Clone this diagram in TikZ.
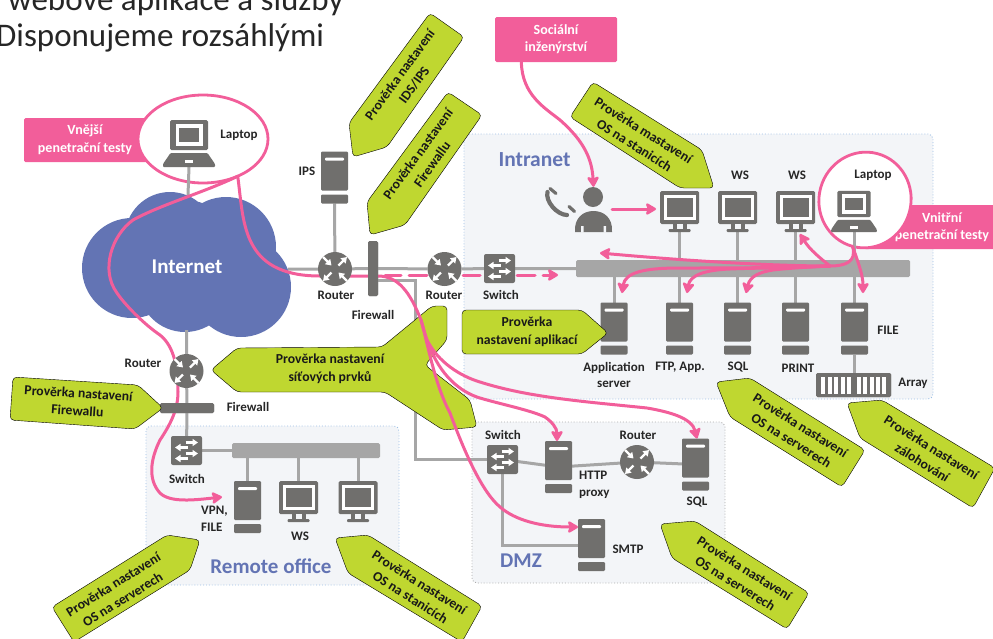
\documentclass[tikz,border=0pt]{standalone}
\usepackage{fontspec}
\setmainfont{Carlito}
\usetikzlibrary{arrows.meta,calc,shapes.geometric}
\definecolor{devgray}{HTML}{706F6D}
\definecolor{linegray}{HTML}{A6A6A6}
\definecolor{hotpink}{HTML}{F25E9A}
\definecolor{lime}{HTML}{BFD730}
\definecolor{cloudblue}{HTML}{6374B4}
\definecolor{zonefill}{HTML}{F3F5F8}
\definecolor{titlegray}{HTML}{262626}
\definecolor{zoneblue}{HTML}{9DBFE5}
\definecolor{zonegray}{HTML}{ABABAB}
\tikzset{
  x=1pt,y=-1pt,
  srvbox/.style={inner sep=0,outer sep=0,minimum width=27pt,minimum height=52pt},
  monbox/.style={inner sep=0,outer sep=0,minimum width=39pt,minimum height=41pt},
  lapbox/.style={inner sep=0,outer sep=0,minimum width=52pt,minimum height=47pt},
  lapboxs/.style={inner sep=0,outer sep=0,minimum width=46pt,minimum height=41pt},
  rtrbox/.style={circle,inner sep=0,outer sep=0,minimum size=34pt},
  swbox/.style={inner sep=0,outer sep=0,minimum width=31pt,minimum height=29pt},
  barbox/.style={rectangle,fill=#1,rounded corners=1.5pt,inner sep=0,outer sep=0},
  zone/.style={fill=zonefill,draw=#1,dotted,line width=0.9pt,rounded corners=5pt},
  wire/.style={draw=linegray,line width=3pt},
  attack/.style={draw=hotpink,line width=3pt,line cap=round},
  attackhead/.style={attack,-{Stealth[length=12pt,width=14pt,inset=2.5pt,round]}},
  ring/.style={ellipse,draw=hotpink,fill=white,line width=2.8pt,inner sep=0,outer sep=0},
  pinktag/.style={fill=hotpink,rounded corners=1.5pt,inner sep=0,outer sep=0},
  badge/.style={fill=lime,rounded corners=4pt},
  tagtext/.style={text=white,font=\bfseries\fontsize{14}{17.5}\selectfont,align=center,inner sep=0},
  devtext/.style={text=black!85,font=\bfseries\fontsize{13}{16.5}\selectfont,align=center,inner sep=0},
  limetext/.style={text=black!90,font=\bfseries\fontsize{13.7}{17.5}\selectfont,align=center,inner sep=0},
  zonetext/.style={text=cloudblue,font=\bfseries\fontsize{#1}{#1}\selectfont,inner sep=0},
  pics/server/.style={code={
    \fill[devgray,rounded corners=1.2pt] (-13.5,-26) rectangle (13.5,13);
    \fill[devgray,rounded corners=1.2pt] (-13.5,17) rectangle (13.5,26);
    \fill[white,rounded corners=1pt] (-9.5,-20) rectangle (9.5,-17);
  }},
  pics/monitor/.style={code={
    \fill[devgray,rounded corners=1.5pt] (-19.5,-20.5) rectangle (19.5,12.5);
    \fill[white] (-16,-16.5) rectangle (16,8.5);
    \fill[devgray] (-13,-13.5) rectangle (13,5.5);
    \fill[devgray] (-7,12.5) rectangle (7,18);
    \fill[zonefill] (-3,12.5) rectangle (3,17.5);
    \fill[devgray,rounded corners=1pt] (-11,17.5) rectangle (11,20.5);
  }},
  pics/laptop/.style={code={
    \fill[devgray,rounded corners=1.5pt] (-19,-23.5) rectangle (19,6.5);
    \fill[white] (-13.5,-19.5) rectangle (13.5,2.5);
    \fill[devgray] (-10,-15.5) rectangle (10,-1.5);
    \fill[devgray,rounded corners=1pt] (-18.5,9.5) -- (18.5,9.5) -- (26,20.5) -- (26,23.5) -- (-26,23.5) -- (-26,20.5) -- cycle;
    \fill[white] (-4,16.5) rectangle (4,19.5);
  }},
  arr/.style={draw=white,line width=2.3pt,-{Triangle[length=5.5pt,width=7pt]}},
  pics/router/.style={code={
    \fill[devgray] (0,0) circle (17);
    \draw[arr] (-12,-12) -- (-3.5,-3.5);
    \draw[arr] (12,12) -- (3.5,3.5);
    \draw[arr] (3.5,-3.5) -- (12,-12);
    \draw[arr] (-3.5,3.5) -- (-12,12);
  }},
  pics/switcher/.style={code={
    \fill[devgray,rounded corners=2pt] (-15.5,-14.5) rectangle (15.5,14.5);
    \draw[arr] (-1,-8) -- (11.5,-8);
    \draw[arr] (1,-3) -- (-11.5,-3);
    \draw[arr] (-1,3) -- (11.5,3);
    \draw[arr] (1,8) -- (-11.5,8);
  }}
}
\begin{document}
\begin{tikzpicture}
\useasboundingbox (0,0) rectangle (993,638);
\clip (0,0) rectangle (993,638);
% title text
\node[anchor=base west,inner sep=0,text=titlegray,font=\fontsize{33}{33}\selectfont] (title1) at (8,10) {webové aplikace a služby};
\node[anchor=base west,inner sep=0,text=titlegray,font=\fontsize{33}{33}\selectfont] (title2) at (-4,46.5) {Disponujeme rozsáhlými};
% zones
\draw[zone=zoneblue] (464,134) rectangle (933,399);
\draw[zone=zoneblue] (146,426) rectangle (399,585);
\draw[zone=zonegray] (472,422) rectangle (725,583);
\node[zonetext=21.5] (zIntra) at (534.5,160) {Intranet};
\node[zonetext=21] (zRemote) at (271,566) {Remote office};
\node[zonetext=21] (zDmz) at (521,561) {DMZ};
% cloud
\fill[cloudblue] (132,268) circle (50) (170,237) circle (45) (226,247) circle (50)
  (241,287) circle (50) (185,285) circle (47) (185,250) circle (50);
\node[text=white,font=\bfseries\fontsize{21}{21}\selectfont,inner sep=0] (inet) at (187,267) {Internet};
\coordinate (inetN) at (188,195);
\coordinate (inetE) at (288,269);
\coordinate (inetS) at (186.5,330);
% pink tags & rings
\node[pinktag,minimum width=125pt,minimum height=44pt] (tagExt) at (86.5,140) {};
\node[tagtext] (tagExtT) at (85,139.5) {Vnější\\penetrační testy};
\node[ring,minimum width=130pt,minimum height=88pt] (el1) at (203,139) {};
\node[pinktag,minimum width=122pt,minimum height=45pt] (tagSoc) at (556,39.5) {};
\node[tagtext] (tagSocT) at (556,39) {Sociální\\inženýrství};
\node[pinktag,minimum width=132pt,minimum height=44pt] (tagInt) at (930,227) {};
\node[tagtext] (tagIntT) at (942,227) {Vnitřní\\penetrační testy};
\node[ring,minimum width=92pt,minimum height=96pt,rotate=-15] (el2) at (865,200) {};
% device place-holders
\node[lapbox] (lap1) at (189,143.5) {};
\node[srvbox] (ips) at (334.5,177.5) {};
\node[rtrbox] (r1) at (335,269) {};
\node[rtrbox] (r2) at (444.5,269) {};
\node[rtrbox] (r3) at (186.5,371) {};
\node[rtrbox] (r4) at (637,462) {};
\node[swbox] (sw1) at (499.5,268.5) {};
\node[swbox] (sw2) at (186.5,450.5) {};
\node[swbox] (sw3) at (502.5,459.5) {};
\node[barbox=devgray,minimum width=10pt,minimum height=55pt] (fw1) at (373,268.5) {};
\node[barbox=devgray,minimum width=54pt,minimum height=10pt] (fw2) at (187,408) {};
\node[barbox=linegray,minimum width=334pt,minimum height=17pt] (bus1) at (743,268.5) {};
\node[barbox=linegray,minimum width=148pt,minimum height=15pt] (bus2) at (306,450.5) {};
\node[monbox] (m1) at (679.5,211.5) {};
\node[monbox] (m2) at (737.5,211.5) {};
\node[monbox] (m3) at (795.5,211.5) {};
\node[lapboxs] (lap2) at (854,211.5) {};
\node[srvbox] (s1) at (614,328.5) {};
\node[srvbox] (s2) at (679.5,328.5) {};
\node[srvbox] (s3) at (737.5,328.5) {};
\node[srvbox] (s4) at (795.5,328.5) {};
\node[srvbox] (s5) at (854.5,328.5) {};
\node[barbox=devgray,minimum width=75pt,minimum height=24pt] (arr1) at (853.5,385) {};
\node[srvbox] (s6) at (247.5,507) {};
\node[monbox] (m4) at (298.5,501.5) {};
\node[monbox] (m5) at (358,501.5) {};
\node[srvbox] (s7) at (558.5,467) {};
\node[srvbox] (s8) at (695.5,464.5) {};
\node[srvbox] (s9) at (591.5,545) {};
\node[inner sep=0,minimum width=37pt,minimum height=44pt] (person) at (593.5,209) {};
% grey wires
\draw[wire] (lap1.south) -- (inetN);
\draw[wire] (ips.south) -- (r1);
\draw[wire] (inetE) -- (r1) -- (fw1) -- (r2) -- (sw1) -- (bus1.west |- sw1);
\draw[wire] (m1.south) -- (m1.south |- bus1.north);
\draw[wire] (m2.south) -- (m2.south |- bus1.north);
\draw[wire] (m3.south) -- (m3.south |- bus1.north);
\draw[wire] (lap2.south) -- (lap2.south |- bus1.north);
\draw[wire] (s1.north) -- (s1.north |- bus1.south);
\draw[wire] (s2.north) -- (s2.north |- bus1.south);
\draw[wire] (s3.north) -- (s3.north |- bus1.south);
\draw[wire] (s4.north) -- (s4.north |- bus1.south);
\draw[wire] (s5.north) -- (s5.north |- bus1.south);
\draw[wire] (s5.south) -- (s5.south |- arr1.north);
\draw[wire] (inetS) -- (r3) -- (fw2) -- (sw2);
\draw[wire] (sw2.east) -- (sw2.east -| bus2.west);
\draw[wire] (s6.north) -- (s6.north |- bus2.south);
\draw[wire] (m4.north) -- (m4.north |- bus2.south);
\draw[wire] (m5.north) -- (m5.north |- bus2.south);
\coordinate (fwout) at (378,280);
\draw[wire] (fwout) -- (415,280) |- (sw3);
\draw[wire] (sw3) -- (s7) -- (r4) -- (s8);
\draw[wire] (sw3.south) |- (s9.west);
% lime badges under the pink lines
\draw[badge] (430,13) -- (464,37) -- (387,147) -- (353,157) -- (349,123) -- cycle;
\node[limetext,rotate=54] (b1) at (407,80) {Prověrka nastavení\\IDS/IPS};
\draw[badge] (448,92) -- (482,115) -- (405,225) -- (370,235) -- (367,202) -- cycle;
\node[limetext,rotate=54] (b2) at (425,159) {Prověrka nastavení\\Firewallu};
\draw[badge] (593,82) -- (570,117) -- (680,188) -- (714,188) -- (702,150) -- cycle;
\node[limetext,rotate=-32] (b3) at (639,138) {Prověrka mastavení\\OS na stanicích};
\draw[badge] (211,370) -- (237,348) -- (382,347) -- (432,306) -- (447,306) -- (447,340) -- (425,365) -- (470,400) -- (477,427) -- (443,430) -- (385,392) -- (237,392) -- cycle;
\node[limetext] (b5) at (330,369) {Prověrka nastavení\\síťových prvků};
\draw[badge] (200,540) -- (167,535) -- (52,607) -- (74,642) -- (190,570) -- cycle;
\node[limetext,rotate=32] (b7) at (118,592) {Prověrka nastavení\\OS na serverech};
\draw[badge] (335,538) -- (368,535) -- (482,606) -- (462,642) -- (348,573) -- cycle;
\node[limetext,rotate=-32] (b8) at (415,590) {Prověrka nastavení\\OS na stanicích};
\draw[badge] (716,382) -- (750,378) -- (865,450) -- (842,487) -- (730,417) -- cycle;
\node[limetext,rotate=-32] (b9) at (796,433) {Prověrka nastavení\\OS na serverech};
\draw[badge] (847,403) -- (882,400) -- (995,468) -- (973,508) -- (860,438) -- cycle;
\node[limetext,rotate=-32] (b10) at (927,455) {Prověrka nastavení\\zálohování};
\draw[badge] (660,524) -- (695,521) -- (809,593) -- (787,629) -- (672,558) -- cycle;
\node[limetext,rotate=-32] (b11) at (740,576) {Prověrka nastavení\\OS na serverech};
% pink connectors
\coordinate (fwin) at (378,276);
\coordinate (trunk) at (421,320);
\coordinate (fan) at (830,266);
\coordinate (lanhit) at (558,275);
\draw[attack] (el1.-47) .. controls (244,220) and (240,276) .. (320,276) -- (fwin);
\draw[attackhead,dash pattern=on 16pt off 8pt on 18pt off 36pt on 17pt off 37pt on 18pt off 8pt on 40pt] (385,275) -- (lanhit);
\draw[attack] (fwin) .. controls (398,276) and (410,292) .. (trunk) .. controls (423,327) and (425,334) .. (427,340);
\draw[attackhead] (trunk) .. controls (428,345) and (435,385) .. (450,413) .. controls (462,445) and (480,490) .. (500,507) .. controls (515,520) and (540,527) .. (s9.west |- 0,527);
\draw[attackhead] (427,340) .. controls (438,362) and (460,376) .. (480,382) .. controls (530,398) and (590,402) .. (647,408) .. controls (670,412) and (692,418) .. (s8.north -| 697,0);
\draw[attackhead] (429,345) .. controls (440,375) and (460,392) .. (480,398) .. controls (500,404) and (530,410) .. (545,417) .. controls (552,422) and (557,428) .. (s7.north -| 557,0);
\draw[attackhead] (el1.-47) .. controls (205,192) and (160,205) .. (133,220) .. controls (112,235) and (100,270) .. (117,293) .. controls (125,305) and (145,325) .. (160,335) .. controls (175,347) and (178,370) .. (178,392) .. controls (178,410) and (170,425) .. (160,440) .. controls (150,460) and (148,480) .. (160,493) .. controls (170,503) and (195,500) .. (222,497);
\draw[attackhead] (tagSoc.213.5) .. controls (522,95) and (545,108) .. (560,120) .. controls (585,142) and (592,160) .. (person.north);
\draw[attackhead,shorten >=4pt] (person.east) -- (person.east -| m1.west);
\draw[attackhead] (el2.-90) .. controls (857,262) and (845,266) .. (fan) .. controls (780,266) and (700,262) .. (600,253);
\draw[attackhead] (fan) .. controls (780,268) and (720,268) .. (680,268) .. controls (645,268) and (625,272) .. (622,293);
\draw[attackhead] (fan) .. controls (790,268) and (750,268) .. (730,269) .. controls (705,270) and (690,275) .. (687,293);
\draw[attackhead] (fan) .. controls (810,267) and (790,268) .. (773,270) .. controls (760,272) and (750,276) .. (746,293);
\draw[attackhead] (el2.-90) .. controls (858,262) and (863,275) .. (863,293);
\draw[attackhead] (fan) .. controls (820,258) and (810,250) .. (800,234);
% device icons
\pic at (lap1) {laptop};
\pic at (ips) {server};
\pic at (r1) {router};
\pic at (r2) {router};
\pic at (r3) {router};
\pic at (r4) {router};
\pic at (sw1) {switcher};
\pic at (sw2) {switcher};
\pic at (sw3) {switcher};
\node[barbox=devgray,minimum width=10pt,minimum height=55pt] (fw1b) at (fw1) {};
\node[barbox=devgray,minimum width=54pt,minimum height=10pt] (fw2b) at (fw2) {};
\pic at (m1) {monitor};
\pic at (m2) {monitor};
\pic at (m3) {monitor};
\pic[scale=0.88] at (lap2) {laptop};
\pic at (s1) {server};
\pic at (s2) {server};
\pic at (s3) {server};
\pic at (s4) {server};
\pic at (s5) {server};
\pic at (s6) {server};
\pic at (m4) {monitor};
\pic at (m5) {monitor};
\pic at (s7) {server};
\pic at (s8) {server};
\pic at (s9) {server};
\node[barbox=devgray,minimum width=75pt,minimum height=24pt] (arr1b) at (arr1) {};
\foreach \bx in {821,827.5,834,840.5,847,857,863,869.5,876,882}
  \fill[white] (\bx,377) rectangle ++(4,17);
% person and handset
\fill[devgray] (593,197) circle (10);
\fill[devgray] (575,232) .. controls (574,218) and (583,211) .. (593.5,211) .. controls (604,211) and (613,218) .. (612,232) -- cycle;
\fill[zonefill] (581,226) rectangle (583.5,232.5) (603.5,226) rectangle (606,232.5);
\draw[devgray,line width=3.2pt,line cap=round] (550,188.5) -- (556,193.5);
\draw[devgray,line width=3.2pt,line cap=round] (569,206.5) -- (574.5,211.5);
\draw[devgray,line width=4.2pt,line cap=round] (547.5,192) .. controls (545,201) and (557,215) .. (567,215);
% lime badges over devices
\draw[badge] (462,310) -- (582,310) -- (608,333) -- (582,354) -- (462,354) -- cycle;
\node[limetext] (b4) at (527,332) {Prověrka\\nastavení aplikací};
\draw[badge] (13,377) -- (138,385) -- (163,408) -- (135,429) -- (10,420) -- cycle;
\node[limetext,rotate=-3.7] (b6) at (78,402) {Prověrka nastavení\\Firewallu};
% device labels
\node[devtext] (tLap1) at (239,135) {Laptop};
\node[devtext] (tIps) at (307,171) {IPS};
\node[devtext] (tR1) at (336,295) {Router};
\node[devtext] (tFw1) at (373,315) {Firewall};
\node[devtext] (tR2) at (444,295) {Router};
\node[devtext] (tSw1) at (501,295) {Switch};
\node[devtext] (tW2) at (740,175) {WS};
\node[devtext] (tW3) at (797,175) {WS};
\node[devtext] (tLap2) at (873,175) {Laptop};
\node[devtext] (tS1) at (614,375) {Application\\server};
\node[devtext] (tS2) at (680,367) {FTP, App.};
\node[devtext] (tS3) at (738,367) {SQL};
\node[devtext] (tS4) at (798,368) {PRINT};
\node[devtext] (tS5) at (888,330) {FILE};
\node[devtext] (tArr) at (913,383) {Array};
\node[devtext] (tR3) at (143,363) {Router};
\node[devtext] (tFw2) at (248,407) {Firewall};
\node[devtext] (tSw2) at (187,479) {Switch};
\node[devtext,align=left,anchor=west] (tS6) at (201,519) {VPN,\\FILE};
\node[devtext] (tW4) at (300,536) {WS};
\node[devtext] (tSw3) at (503,435) {Switch};
\node[devtext] (tR4) at (638,435) {Router};
\node[devtext,align=left,anchor=west] (tS7) at (579,485) {HTTP\\proxy};
\node[devtext] (tS8) at (697,502) {SQL};
\node[devtext] (tS9) at (628,549) {SMTP};
\end{tikzpicture}
\end{document}
